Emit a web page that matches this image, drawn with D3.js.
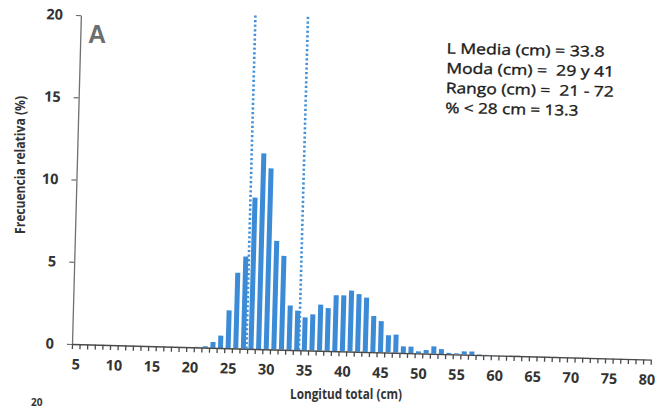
<!DOCTYPE html>
<html>
<head>
<meta charset="utf-8">
<script src="https://cdn.jsdelivr.net/npm/d3@7"></script>
<style>
  body { margin: 0; background: #fff; }
  text { font-family: "Open Sans", sans-serif; }
</style>
</head>
<body>
<svg id="chart" width="660" height="412"></svg>
<script>
// longitud total (cm) y frecuencia relativa (%)
const longitudes = [21, 22, 23, 24, 25, 26, 27, 28, 29, 30, 31, 32, 33, 34, 35, 36, 37, 38, 39, 40,
                    41, 42, 43, 44, 45, 46, 47, 48, 49, 50, 51, 52, 53, 54, 55, 56, 57, 58, 59, 60,
                    61, 62, 63, 64, 65, 66, 67, 68, 69, 70, 71, 72];
const frecuencia = [0.03, 0.08, 0.35, 0.75, 2.3, 4.6, 5.6, 9.2, 11.9, 11.0, 6.6, 5.7, 2.7, 2.4, 2.0, 2.2, 2.8, 2.6, 3.4, 3.4,
                    3.7, 3.5, 3.3, 2.2, 1.9, 1.05, 1.1, 0.4, 0.4, 0.12, 0.22, 0.45, 0.3, 0.08, 0.06, 0.2, 0.2, 0.03, 0.02, 0.02,
                    0.02, 0.01, 0.02, 0.01, 0.01, 0.01, 0.01, 0.01, 0.01, 0.01, 0.01, 0.01];
const etiquetasX = [5, 10, 15, 20, 25, 30, 35, 40, 45, 50, 55, 60, 65, 70, 75, 80];
const ticksY = [0, 5, 10, 15, 20];
const cortes = [27.4, 34.3];      // lineas punteadas
const topeCortes = 20.3;
const resumen = ["L Media (cm) = 33.8", "Moda (cm) =  29 y 41", "Rango (cm) =  21 - 72", "% < 28 cm = 13.3"];

const azul = '#3b8bd6';
const x0 = 72, x1 = 651, yBase = 344, yTop = 15;

const svg = d3.select('#chart');
svg.append('rect').attr('width', 660).attr('height', 412).attr('fill', '#fff');

// el grafico escaneado esta un poco girado
const g = svg.append('g').attr('transform', `rotate(1.55, ${x0}, ${yBase})`);

const x = d3.scaleLinear().domain([4.5, 80.5]).range([x0, x1]);
const y = d3.scaleLinear().domain([0, 20]).range([yBase, yTop]);
const paso = x(1) - x(0);

// barras
g.selectAll('rect.barra')
  .data(longitudes)
  .join('rect')
  .attr('class', 'barra')
  .attr('x', d => x(d) - paso * 0.33)
  .attr('width', paso * 0.66)
  .attr('y', (d, i) => y(frecuencia[i]))
  .attr('height', (d, i) => yBase - y(frecuencia[i]))
  .attr('fill', azul);

// eje y
const ejeY = g.append('g')
  .attr('transform', `translate(${x0},0)`)
  .call(d3.axisLeft(y).tickValues(ticksY).tickSize(5).tickSizeOuter(0).tickPadding(13));
ejeY.select('.domain').attr('stroke', '#707070').attr('stroke-width', 1.3);
ejeY.selectAll('.tick line').attr('stroke', '#707070').attr('stroke-width', 1.2);
ejeY.selectAll('.tick text')
  .attr('font-size', 14.5).attr('font-weight', 'bold').attr('fill', '#333')
  .style('font-family', '"Open Sans", sans-serif');

// eje x: marcas entre categorias
const ejeX = g.append('g')
  .attr('transform', `translate(0,${yBase})`)
  .call(d3.axisBottom(x).tickValues(d3.range(4.5, 81, 1)).tickSize(5).tickSizeOuter(0).tickFormat(''));
ejeX.select('.domain').attr('stroke', '#4a4a4a').attr('stroke-width', 1.4);
ejeX.selectAll('.tick line').attr('stroke', '#4a4a4a').attr('stroke-width', 1.3);

const etiq = g.append('g')
  .attr('transform', `translate(0,${yBase})`)
  .call(d3.axisBottom(x).tickValues(etiquetasX).tickSize(0).tickPadding(15));
etiq.select('.domain').remove();
etiq.selectAll('.tick text')
  .attr('font-size', 14.5).attr('font-weight', 'bold').attr('fill', '#333')
  .style('font-family', '"Open Sans", sans-serif');

// lineas punteadas
g.selectAll('line.corte')
  .data(cortes)
  .join('line')
  .attr('class', 'corte')
  .attr('x1', d => x(d)).attr('x2', d => x(d))
  .attr('y1', y(0)).attr('y2', y(topeCortes))
  .attr('stroke', '#3f8fd9')
  .attr('stroke-width', 2.6)
  .attr('stroke-dasharray', '2.2,2.4');

// titulos de ejes
svg.append('text')
  .attr('transform', 'translate(20,165) rotate(-90)')
  .attr('text-anchor', 'middle')
  .attr('dy', '0.35em')
  .attr('font-size', 14.5).attr('font-weight', 'bold').attr('fill', '#333')
  .attr('textLength', 138).attr('lengthAdjust', 'spacingAndGlyphs')
  .text('Frecuencia relativa (%)');

svg.append('text')
  .attr('x', 346).attr('y', 399)
  .attr('text-anchor', 'middle')
  .attr('font-size', 14.5).attr('font-weight', 'bold').attr('fill', '#333')
  .attr('textLength', 112).attr('lengthAdjust', 'spacingAndGlyphs')
  .text('Longitud total (cm)');

// letra del panel
svg.append('text')
  .attr('x', 88).attr('y', 43)
  .attr('font-size', 25).attr('font-weight', 'bold').attr('fill', '#6e6e6e')
  .style('font-family', '"Liberation Sans", Arial, sans-serif')
  .text('A');

// resumen
const anchos = [158, 168, 168, 133];
svg.append('g')
  .attr('transform', 'rotate(1.2, 446, 80)')
  .selectAll('text')
  .data(resumen)
  .join('text')
  .attr('x', 446)
  .attr('y', (d, i) => 53.5 + i * 19.8)
  .attr('font-size', 14.5).attr('fill', '#1a1a1a')
  .attr('stroke', '#1a1a1a').attr('stroke-width', 0.35)
  .attr('textLength', (d, i) => anchos[i]).attr('lengthAdjust', 'spacingAndGlyphs')
  .style('white-space', 'pre')
  .text(d => d);

// borde del panel siguiente
svg.append('text')
  .attr('x', 31).attr('y', 406)
  .attr('font-size', 10).attr('font-weight', 'bold').attr('fill', '#333')
  .text('20');
</script>
</body>
</html>
